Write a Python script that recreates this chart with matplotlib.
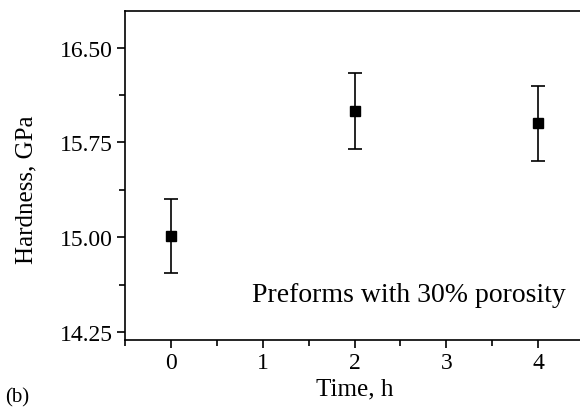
import matplotlib.pyplot as plt
from matplotlib.ticker import MultipleLocator

plt.rcParams['font.family'] = 'Liberation Serif'
plt.rcParams['font.size'] = 17

time_h = [0, 2, 4]
hardness = [15.01, 16.00, 15.90]
hardness_err = [0.29, 0.30, 0.30]

fig = plt.figure(figsize=(5.8, 4.1), dpi=100)
# axes runs off the right edge of the picture, as in the source
ax = fig.add_axes([125 / 580, 1 - 341 / 410, 459 / 580, 329 / 410])

ax.errorbar(time_h, hardness, yerr=hardness_err, fmt='s', color='black',
            markersize=7, capsize=5, elinewidth=1.2, capthick=1.2)

ax.set_xlim(-0.5, 4.5)
ax.set_ylim(14.187, 16.79)
ax.xaxis.set_major_locator(MultipleLocator(1))
ax.xaxis.set_minor_locator(MultipleLocator(0.5))
ax.set_yticks([14.25, 15.00, 15.75, 16.50])
ax.set_yticklabels(['14.25', '15.00', '15.75', '16.50'])
ax.yaxis.set_minor_locator(MultipleLocator(0.375))
ax.tick_params(which='major', direction='out', length=6, width=1.2, labelsize=17, pad=3)
ax.tick_params(which='minor', direction='out', length=4, width=1.2)
for s in ax.spines.values():
    s.set_linewidth(1.2)

ax.set_xlabel('Time, h', fontsize=18)
ax.set_ylabel('Hardness, GPa', fontsize=18)
ax.xaxis.set_label_coords(0.5, -0.115)
ax.yaxis.set_label_coords(-0.19, 0.46)
ax.text(2.59, 14.55, 'Preforms with 30% porosity', fontsize=20, ha='center', va='center')
fig.text(5 / 580, 1 - 398 / 410, '(b)', fontsize=15, va='center')

fig.savefig('out.png', dpi=100)
